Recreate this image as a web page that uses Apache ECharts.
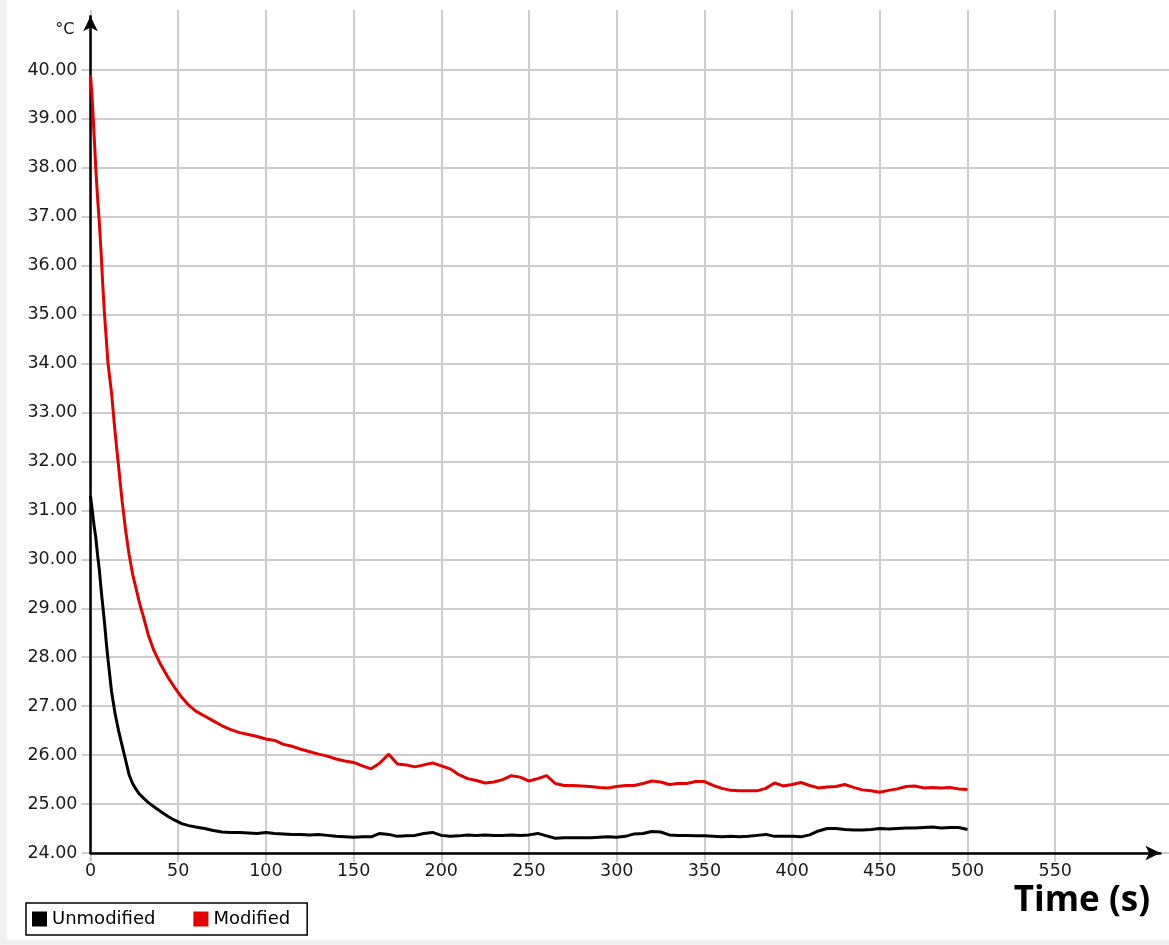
<!DOCTYPE html>
<html>
<head>
<meta charset="utf-8">
<script src="https://cdn.jsdelivr.net/npm/echarts@6/dist/echarts.min.js"></script>
<style>
  html, body { margin: 0; padding: 0; background: #f0f0f0; width: 1169px; height: 945px; overflow: hidden; }
  #chart { position: absolute; left: 7px; top: 0; width: 1162px; height: 940px; background: #fff; }
</style>
</head>
<body>
<div id="chart"></div>
<script>
// ---- data ----
const times = [0,1,2,3,4,5,6,7,8,9,10,
  12,14,16,18,20,22,24,26,28,30,
  33,36,
  40,44,48,52,56,60,
  65,70,75,80,85,90,95,100,105,110,
  115,120,125,130,135,140,145,150,155,160,
  165,170,175,180,185,190,195,200,205,210,
  215,220,225,230,235,240,245,250,255,260,
  265,270,275,280,285,290,295,300,305,310,
  315,320,325,330,335,340,345,350,355,360,
  365,370,375,380,385,390,395,400,405,410,
  415,420,425,430,435,440,445,450,455,460,
  465,470,475,480,485,490,495,500];

const unmodified = [31.3,31.0,30.7,30.45,30.1,29.8,29.4,29.05,28.7,28.3,27.95,
  27.3,26.85,26.5,26.2,25.9,25.6,25.42,25.3,25.2,25.13,
  25.03,24.95,
  24.85,24.75,24.67,24.6,24.56,24.53,
  24.5,24.46,24.43,24.42,24.42,24.41,24.4,24.42,24.4,24.39,
  24.38,24.38,24.37,24.38,24.36,24.34,24.33,24.32,24.33,24.33,
  24.4,24.38,24.34,24.35,24.36,24.4,24.42,24.36,24.34,24.35,
  24.37,24.36,24.37,24.36,24.36,24.37,24.36,24.37,24.4,24.35,
  24.3,24.31,24.31,24.31,24.31,24.32,24.33,24.32,24.34,24.39,
  24.4,24.44,24.43,24.37,24.36,24.36,24.35,24.35,24.34,24.33,
  24.34,24.33,24.34,24.36,24.38,24.34,24.34,24.34,24.33,24.37,
  24.45,24.5,24.5,24.48,24.47,24.47,24.48,24.5,24.49,24.5,
  24.51,24.51,24.52,24.53,24.51,24.52,24.52,24.48];

const modified = [39.9,39.4,38.7,38.0,37.4,36.9,36.3,35.6,35.0,34.5,34.0,
  33.4,32.6,31.9,31.2,30.6,30.1,29.7,29.4,29.1,28.85,
  28.45,28.15,
  27.85,27.6,27.38,27.18,27.02,26.9,
  26.8,26.7,26.6,26.52,26.46,26.42,26.38,26.33,26.3,26.22,
  26.18,26.12,26.07,26.02,25.98,25.92,25.88,25.85,25.78,25.72,
  25.84,26.02,25.82,25.8,25.76,25.8,25.84,25.78,25.72,25.6,
  25.52,25.48,25.43,25.45,25.5,25.58,25.55,25.47,25.52,25.58,
  25.42,25.38,25.38,25.37,25.36,25.34,25.33,25.36,25.38,25.38,
  25.42,25.47,25.45,25.4,25.42,25.42,25.46,25.46,25.38,25.32,
  25.28,25.27,25.27,25.27,25.32,25.43,25.37,25.4,25.44,25.38,
  25.33,25.35,25.36,25.4,25.34,25.29,25.27,25.24,25.28,25.31,
  25.36,25.37,25.33,25.34,25.33,25.34,25.31,25.3];

const seriesNames = ['Unmodified', 'Modified'];
const xTickMax = 550;      // last labelled x tick
const xAxisMax = 610;      // where the arrowed x axis ends
const yTickMin = 24, yTickMax = 40;
const yAxisMax = 41.1;     // where the arrowed y axis ends
const xTitle = 'Time (s)';
const yUnit = '°C';

// ---- layout ----
const CH = 940, CW = 1162;
const X0 = 83.5, PX = 1.754;     // x pixel of t=0, px per second
const Y24 = 853, PY = 48.94;     // y pixel of 24 °C, px per degree
const bottom = CH - Y24;

const labelFont = { fontFamily: 'DejaVu Sans', fontSize: 17.5, color: '#1a1a1a' };
const gridColor = '#cdcdcd';

const chart = echarts.init(document.getElementById('chart'), null, { renderer: 'canvas' });
chart.setOption({
  animation: false,
  backgroundColor: '#fff',
  title: {
    text: xTitle, right: 19, top: 884, padding: 0,
    textStyle: { fontFamily: 'Open Sans', fontWeight: 'bold', fontSize: 35, color: '#000' }
  },
  legend: {
    left: 19, top: 903,
    orient: 'horizontal',
    padding: [7, 17, 7, 6],
    borderColor: '#000', borderWidth: 1.5,
    itemWidth: 15, itemHeight: 15, itemGap: 38,
    icon: 'rect',
    textStyle: { fontFamily: 'DejaVu Sans', fontSize: 18, color: '#000' },
    data: seriesNames
  },
  grid: [
    // data grid
    { left: X0, top: Y24 - (yAxisMax - 24) * PY, width: xAxisMax * PX, height: (yAxisMax - 24) * PY },
    // vertical gridlines + x labels
    { left: X0, top: 10, width: xTickMax * PX, bottom: bottom },
    // horizontal gridlines + y labels
    { left: X0, top: Y24 - (yTickMax - yTickMin) * PY, right: 0, height: (yTickMax - yTickMin) * PY }
  ],
  xAxis: [
    { gridIndex: 0, type: 'value', min: 0, max: xAxisMax, z: 3,
      axisLine: { show: true, symbol: ['none', 'arrow'], symbolSize: [11, 15], lineStyle: { color: '#000', width: 2.5 } },
      axisTick: { show: false }, axisLabel: { show: false }, splitLine: { show: false } },
    { gridIndex: 1, type: 'value', min: 0, max: xTickMax, interval: 50, z: 0,
      axisLine: { show: false },
      axisTick: { show: true, length: 9, lineStyle: { color: gridColor, width: 2 } },
      axisLabel: Object.assign({ margin: 9 }, labelFont),
      splitLine: { show: true, lineStyle: { color: gridColor, width: 2 } } },
    { gridIndex: 2, type: 'value', min: 0, max: 1, show: false }
  ],
  yAxis: [
    { gridIndex: 0, type: 'value', min: 24, max: yAxisMax, z: 3,
      axisLine: { show: true, symbol: ['none', 'arrow'], symbolSize: [11, 15], lineStyle: { color: '#000', width: 2.5 } },
      axisTick: { show: false }, axisLabel: { show: false }, splitLine: { show: false } },
    { gridIndex: 1, type: 'value', min: 0, max: 1, show: false },
    { gridIndex: 2, type: 'value', min: yTickMin, max: yTickMax, interval: 1, z: 0,
      name: yUnit, nameLocation: 'end', nameGap: 40,
      nameTextStyle: { fontFamily: 'DejaVu Sans', fontSize: 16, color: '#111', align: 'right', verticalAlign: 'middle', padding: [0, 16, 0, 0] },
      axisLine: { show: false },
      axisTick: { show: true, length: 9, lineStyle: { color: gridColor, width: 2 } },
      axisLabel: Object.assign({ margin: 13, formatter: v => v.toFixed(2) }, labelFont),
      splitLine: { show: true, lineStyle: { color: gridColor, width: 2 } } }
  ],
  series: [
    { name: seriesNames[0], type: 'line', xAxisIndex: 0, yAxisIndex: 0, showSymbol: false, z: 4,
      color: '#000', lineStyle: { color: '#000', width: 3 },
      data: times.map((t, i) => [t, unmodified[i]]) },
    { name: seriesNames[1], type: 'line', xAxisIndex: 0, yAxisIndex: 0, showSymbol: false, z: 4,
      color: '#e50000', lineStyle: { color: '#e50000', width: 3 },
      data: times.map((t, i) => [t, modified[i]]) }
  ]
});
</script>
</body>
</html>
